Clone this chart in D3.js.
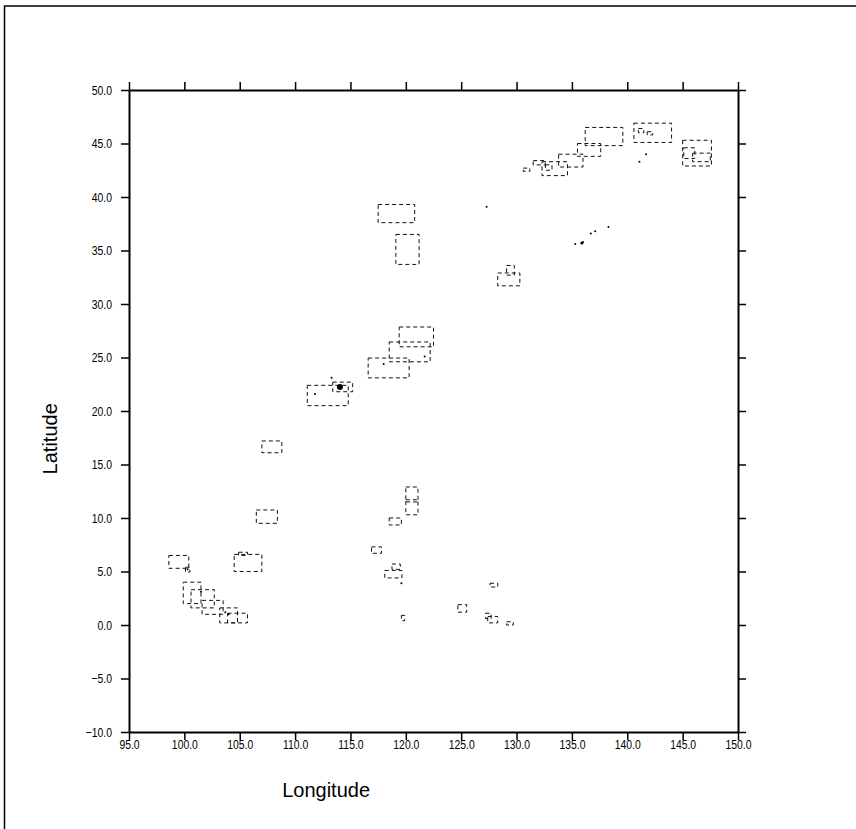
<!DOCTYPE html>
<html>
<head>
<meta charset="utf-8">
<script src="https://cdn.jsdelivr.net/npm/d3@7"></script>
<style>
  body { margin: 0; background: #fff; }
  svg { display: block; }
  .tick text { font-family: "Liberation Sans", Arial, sans-serif; font-size: 13px; fill: #000; }
  .title { font-family: "Liberation Sans", Arial, sans-serif; font-size: 20px; fill: #000; }
</style>
</head>
<body>
<div id="chart"></div>
<script>
// tick labels
var lonTicks = [95, 100, 105, 110, 115, 120, 125, 130, 135, 140, 145, 150];
var latTicks = [-10, -5, 0, 5, 10, 15, 20, 25, 30, 35, 40, 45, 50];

// dashed boxes: [west, east, south, north]
var boxes = [
  [136.2, 139.6, 44.8, 46.5],
  [140.6, 144.0, 45.1, 46.9],
  [135.5, 137.6, 43.8, 45.0],
  [133.8, 136.0, 42.8, 44.0],
  [132.3, 134.6, 42.0, 43.3],
  [132.6, 133.2, 42.5, 43.0],
  [131.5, 132.6, 43.0, 43.4],
  [130.6, 131.2, 42.4, 42.7],
  [145.0, 147.6, 42.9, 45.3],
  [145.1, 146.1, 43.6, 44.6],
  [145.9, 147.5, 43.3, 44.1],
  [141.0, 141.5, 46.0, 46.4],
  [141.8, 142.3, 45.8, 46.1],
  [117.5, 120.8, 37.6, 39.3],
  [119.1, 121.2, 33.7, 36.5],
  [129.1, 129.8, 32.7, 33.6],
  [128.3, 130.3, 31.7, 32.9],
  [119.4, 122.5, 26.0, 27.85],
  [118.5, 122.2, 24.6, 26.45],
  [116.6, 120.3, 23.1, 24.95],
  [111.1, 114.8, 20.5, 22.4],
  [113.4, 115.2, 21.8, 22.7],
  [107.0, 108.8, 16.1, 17.2],
  [106.5, 108.4, 9.5, 10.75],
  [104.5, 107.0, 5.0, 6.6],
  [104.9, 105.7, 6.5, 6.8],
  [98.6, 100.4, 5.3, 6.5],
  [100.1, 100.5, 4.95, 5.4],
  [99.9, 101.5, 2.0, 4.0],
  [100.6, 102.7, 1.6, 3.3],
  [101.6, 103.5, 1.0, 2.3],
  [103.2, 104.8, 0.2, 1.6],
  [103.9, 105.7, 0.2, 1.1],
  [120.0, 121.1, 11.5, 12.9],
  [120.0, 121.1, 10.3, 11.7],
  [118.5, 119.6, 9.35, 10.0],
  [116.9, 117.8, 6.7, 7.3],
  [118.75, 119.5, 5.2, 5.7],
  [118.1, 119.65, 4.4, 5.1],
  [127.6, 128.3, 3.55, 3.9],
  [124.7, 125.5, 1.2, 1.9],
  [119.6, 119.9, 0.4, 0.9],
  [127.2, 127.7, 0.6, 1.1],
  [127.4, 128.3, 0.2, 0.8],
  [129.1, 129.7, 0.0, 0.3]
];

// station points: [lon, lat]
var points = [
  [141.7, 44.0], [141.1, 43.3], [127.3, 39.1],
  [136.7, 36.6], [137.1, 36.8], [138.3, 37.2], [135.3, 35.6], [136.0, 35.8],
  [121.7, 25.1], [118.0, 24.4], [113.3, 23.1], [111.8, 21.6],
  [101.5, 3.1], [103.7, 1.2], [104.0, 1.0], [119.6, 3.9], [100.3, 5.2]
];
var bigPoints = [[114.05, 22.25], [135.9, 35.7]];

var margin = {top: 90, right: 118, bottom: 97, left: 129},
  width = 856 - margin.left - margin.right,
  height = 829 - margin.top - margin.bottom;

var x = d3.scaleLinear().domain([95, 150]).range([0, width]);
var y = d3.scaleLinear().domain([-10, 50]).range([height, 0]);

var root = d3.select("#chart").append("svg")
  .attr("width", 856)
  .attr("height", 829);

// page frame
root.append("rect")
  .attr("x", 4.5).attr("y", 6)
  .attr("width", 1000).attr("height", 1000)
  .attr("fill", "none")
  .attr("stroke", "#000")
  .attr("stroke-width", 1.5);

var svg = root.append("g")
  .attr("transform", "translate(" + margin.left + "," + margin.top + ")");

var fmt = d3.format(".1f");

// boxes
svg.selectAll(".box")
  .data(boxes)
  .enter().append("rect")
  .attr("class", "box")
  .attr("x", function(d) { return x(d[0]); })
  .attr("y", function(d) { return y(d[3]); })
  .attr("width", function(d) { return x(d[1]) - x(d[0]); })
  .attr("height", function(d) { return y(d[2]) - y(d[3]); })
  .attr("fill", "none")
  .attr("stroke", "#111")
  .attr("stroke-width", 1)
  .attr("stroke-dasharray", "4,3");

svg.selectAll(".pt")
  .data(points)
  .enter().append("circle")
  .attr("cx", function(d) { return x(d[0]); })
  .attr("cy", function(d) { return y(d[1]); })
  .attr("r", 1)
  .attr("fill", "#000");

svg.selectAll(".bigpt")
  .data(bigPoints)
  .enter().append("circle")
  .attr("cx", function(d) { return x(d[0]); })
  .attr("cy", function(d) { return y(d[1]); })
  .attr("r", function(d, i) { return i == 0 ? 3 : 1.6; })
  .attr("fill", "#000");

// axes
function styleAxis(g) {
  g.select(".domain").attr("stroke", "#000").attr("stroke-width", 2);
  g.selectAll(".tick line").attr("stroke", "#000").attr("stroke-width", 1.5);
}

// narrow the tick labels like the original plot
var sx = 0.8;

svg.append("g")
  .attr("transform", "translate(0," + height + ")")
  .call(d3.axisBottom(x).tickValues(lonTicks).tickFormat(fmt).tickSize(8).tickSizeOuter(0))
  .call(styleAxis)
  .call(function(g) {
    g.selectAll(".tick text")
      .attr("y", 7).attr("dy", "0.8em")
      .attr("transform", "scale(" + sx + ",1)");
  });

svg.append("g")
  .call(d3.axisTop(x).tickValues(lonTicks).tickFormat("").tickSize(8).tickSizeOuter(0))
  .call(styleAxis);

svg.append("g")
  .call(d3.axisLeft(y).tickValues(latTicks).tickFormat(fmt).tickSize(8).tickSizeOuter(0))
  .call(styleAxis)
  .call(function(g) {
    g.selectAll(".tick text")
      .attr("x", -17 / sx)
      .attr("transform", "scale(" + sx + ",1)");
  });

svg.append("g")
  .attr("transform", "translate(" + width + ",0)")
  .call(d3.axisRight(y).tickValues(latTicks).tickFormat("").tickSize(8).tickSizeOuter(0))
  .call(styleAxis);

// titles
svg.append("text")
  .attr("class", "title")
  .attr("x", x(112.8))
  .attr("y", height + 65)
  .attr("text-anchor", "middle")
  .text("Longitude");

svg.append("text")
  .attr("class", "title")
  .attr("transform", "translate(-72," + y(17.4) + ") rotate(-90)")
  .attr("text-anchor", "middle")
  .text("Latitude");
</script>
</body>
</html>
